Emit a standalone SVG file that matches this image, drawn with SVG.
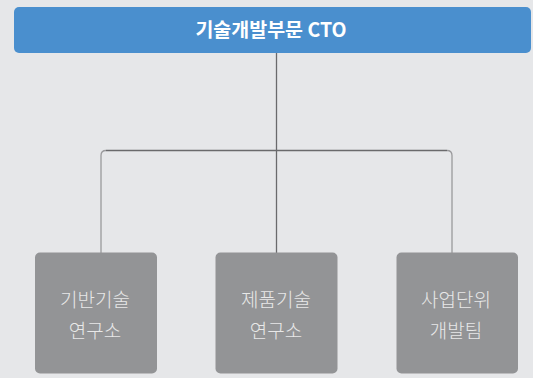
<svg xmlns="http://www.w3.org/2000/svg" width="533" height="378" viewBox="0 0 533 378">
<style>
.bg{fill:#e6e7e9}
.top{fill:#4a8fce}
.box{fill:#939496}
.ttl{font-family:"Noto Sans CJK KR","Noto Sans",sans-serif;font-weight:700;font-size:19.5px;fill:#ffffff;text-anchor:middle}
.lbl{font-family:"Noto Sans CJK KR","Noto Sans",sans-serif;font-weight:300;font-size:19px;fill:#e8e8e8;text-anchor:middle}
.ln{fill:none;stroke-width:1.3}
</style>
<rect class="bg" x="0" y="0" width="533" height="378"/>
<g id="connectors">
<path class="ln" stroke="#6a6a6c" d="M276.5 53 V253"/>
<path class="ln" stroke="#6a6a6c" d="M106 150.5 H447"/>
<path class="ln" stroke="#9a9a9c" d="M101 253 V155.5 Q101 150.5 106 150.5"/>
<path class="ln" stroke="#9a9a9c" d="M452 253 V155.5 Q452 150.5 447 150.5"/>
</g>
<g id="cto">
<rect class="top" x="14" y="7" width="517" height="46" rx="5"/>
<text class="ttl" x="271" y="37">기술개발부문 CTO</text>
</g>
<g id="n1">
<rect class="box" x="35" y="252.5" width="122" height="121" rx="5"/>
<text class="lbl" x="95" y="307">기반기술</text>
<text class="lbl" x="95" y="338">연구소</text>
</g>
<g id="n2">
<rect class="box" x="215.5" y="252.5" width="122" height="121" rx="5"/>
<text class="lbl" x="276" y="307">제품기술</text>
<text class="lbl" x="276" y="338">연구소</text>
</g>
<g id="n3">
<rect class="box" x="396.5" y="252.5" width="121.5" height="121" rx="5"/>
<text class="lbl" x="456" y="307">사업단위</text>
<text class="lbl" x="456" y="338">개발팀</text>
</g>
</svg>
